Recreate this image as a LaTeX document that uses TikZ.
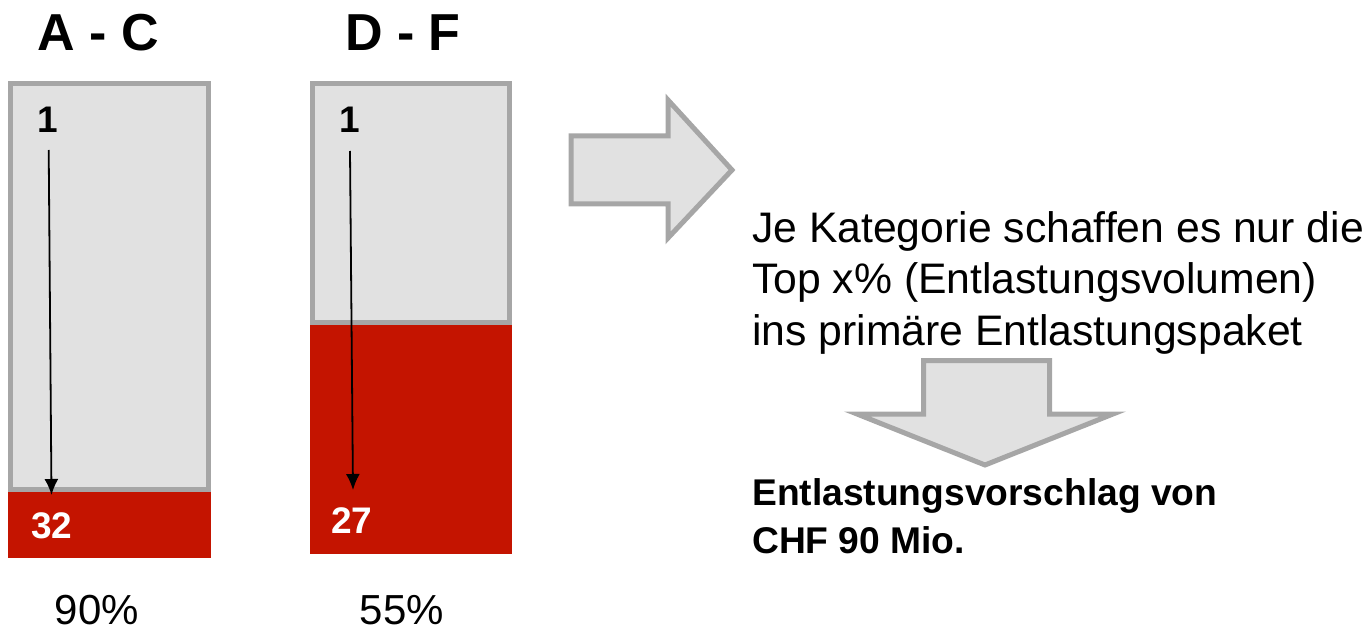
\documentclass[tikz,border=0pt]{standalone}
\usepackage{fontspec}
\setmainfont{Liberation Sans}
\usetikzlibrary{arrows.meta}
\definecolor{barfill}{HTML}{E1E1E1}
\definecolor{barline}{HTML}{A6A6A6}
\definecolor{barred}{HTML}{C41400}
\tikzset{
  graybox/.style={draw=barline, fill=barfill, line width=5pt},
  redbox/.style={fill=barred},
  bigarrow/.style={draw=barline, fill=barfill, line width=5pt, line join=miter},
  title/.style={font=\fontsize{52}{62}\selectfont\bfseries, anchor=base, inner sep=0},
  rank/.style={font=\fontsize{37}{44}\selectfont\bfseries, anchor=base, inner sep=0},
  body/.style={font=\fontsize{42.7}{51}\selectfont, anchor=base west, inner sep=0},
  bodyb/.style={font=\fontsize{37.2}{45}\selectfont\bfseries, anchor=base west, inner sep=0},
  pct/.style={font=\fontsize{42}{50}\selectfont, anchor=base, inner sep=0},
  thin/.style={line width=1.8pt, -{Latex[length=16pt,width=14pt]}}
}
\begin{document}
\begin{tikzpicture}[x=1pt,y=-1pt]
\useasboundingbox (0,0) rectangle (1369,631);
% titles
\node[title] (tAC) at (98,51) {A - C};
\node[title] (tDF) at (403,51) {D - F};
% bar 1
\draw[graybox] (10.5,83.5) rectangle (208.5,489.5);
\fill[redbox] (8,492) rectangle (211,558);
% bar 2
\draw[graybox] (312.5,83.5) rectangle (509.5,322.5);
\fill[redbox] (310,325) rectangle (512,554);
% rank labels
\node[rank] (a1) at (48,133) {1};
\node[rank, text=white] (a32) at (52,538) {32};
\node[rank] (b1) at (350,133) {1};
\node[rank, text=white] (b27) at (352,533) {27};
\coordinate (a1s) at (48.7,150);
\coordinate (a1e) at (51.5,495);
\coordinate (b1s) at (350,151);
\coordinate (b1e) at (353,490);
\draw[thin] (a1s) -- (a1e);
\draw[thin] (b1s) -- (b1e);
% percentages
\node[pct] (p90) at (97,624) {90\%};
\node[pct] (p55) at (402,624) {55\%};
% right arrow
\draw[bigarrow] (571,136) -- (668,136) -- (668,100) -- (732,170) -- (668,238) -- (668,204) -- (571,204) -- cycle;
% text
\node[body] (l1) at (752,243) {Je Kategorie schaffen es nur die};
\node[body] (l2) at (752,294) {Top x\% (Entlastungsvolumen)};
\node[body] (l3) at (752,345) {ins primäre Entlastungspaket};
% down arrow
\draw[bigarrow] (923.5,360.5) -- (1049.5,360.5) -- (1049.5,414) -- (1113,414) -- (985,465) -- (857,414) -- (923.5,414) -- cycle;
\node[bodyb] (r1) at (752,505) {Entlastungsvorschlag von};
\node[bodyb] (r2) at (752,553) {CHF 90 Mio.};
\end{tikzpicture}
\end{document}
